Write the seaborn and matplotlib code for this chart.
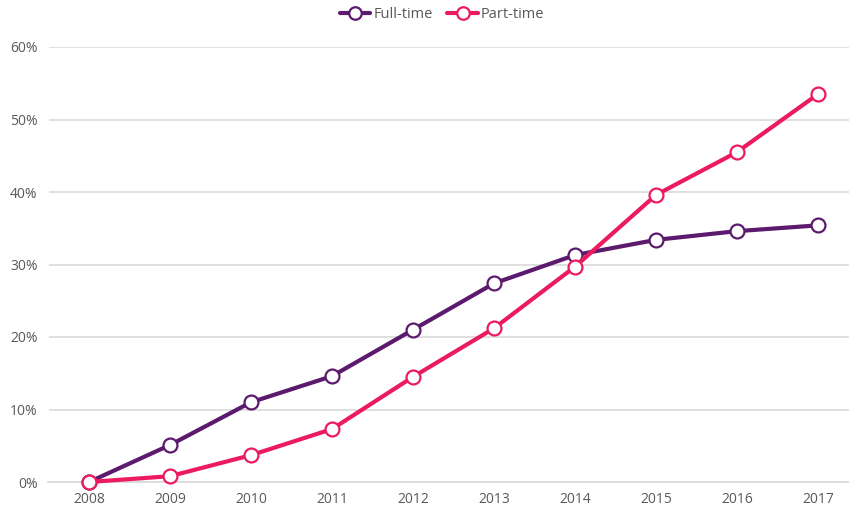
import matplotlib
matplotlib.use("Agg")
import matplotlib.pyplot as plt
import seaborn as sns
import pandas as pd
import numpy as np
from matplotlib.ticker import FixedLocator, PercentFormatter
from matplotlib.lines import Line2D

years = ["2008", "2009", "2010", "2011", "2012", "2013", "2014", "2015", "2016", "2017"]
full_time = [0.0, 5.1, 11.0, 14.6, 21.0, 27.4, 31.3, 33.4, 34.6, 35.4]
part_time = [0.0, 0.8, 3.7, 7.3, 14.5, 21.2, 29.7, 39.6, 45.5, 53.5]
series_names = ["Full-time", "Part-time"]
colors = ["#5c1a6e", "#ec1a5f"]

sns.set_theme(style="white")
plt.rcParams["font.family"] = ["Open Sans", "DejaVu Sans"]

df = pd.DataFrame({
    "idx": list(range(len(years))) * 2,
    "value": full_time + part_time,
    "series": [series_names[0]] * len(years) + [series_names[1]] * len(years),
})

W, H = 849, 508
fig = plt.figure(figsize=(W / 100, H / 100), dpi=100)
ax = fig.add_axes([48.5 / W, 26 / H, 810 / W, 435 / H])

sns.lineplot(data=df, x="idx", y="value", hue="series", palette=colors,
             marker="o", markersize=10, markerfacecolor="white",
             markeredgewidth=1.6, linewidth=3, ax=ax, zorder=3, clip_on=False,
             legend=False)
for line, c in zip(ax.lines, colors):
    line.set_markeredgecolor(c)

ax.set_xlim(-0.5, len(years) - 0.5)
ax.set_ylim(0, 60)
ax.set_xticks(range(len(years)))
ax.set_xticklabels(years)
ax.xaxis.set_minor_locator(FixedLocator(np.arange(-0.5, len(years), 1)))
ax.tick_params(axis="x", which="major", length=0, pad=7, labelsize=10, labelcolor="#595959")
ax.tick_params(axis="x", which="minor", length=5, width=1, color="#d9d9d9", direction="out")
ax.set_yticks(np.arange(0, 61, 10))
ax.yaxis.set_major_formatter(PercentFormatter(decimals=0))
ax.tick_params(axis="y", length=0, pad=8, labelsize=10, labelcolor="#595959")
ax.grid(axis="y", color="#d9d9d9", linewidth=1.2)
ax.set_axisbelow(True)
for s in ["top", "right", "left"]:
    ax.spines[s].set_visible(False)
ax.spines["bottom"].set_color("#d9d9d9")
ax.spines["bottom"].set_linewidth(1.2)
ax.set_xlabel("")
ax.set_ylabel("")

handles = [Line2D([0], [0], color=c, linewidth=3, marker="o", markersize=9,
                  markerfacecolor="white", markeredgecolor=c, markeredgewidth=1.6)
           for c in colors]
ax.legend(handles, series_names, loc="center", bbox_to_anchor=(442 / W, 1 - 15 / H),
          bbox_transform=fig.transFigure, ncol=2, frameon=False, fontsize=10.5,
          labelcolor="#595959", handlelength=2.1, columnspacing=1.0, handletextpad=0.2)

fig.savefig("out.png", dpi=100)
